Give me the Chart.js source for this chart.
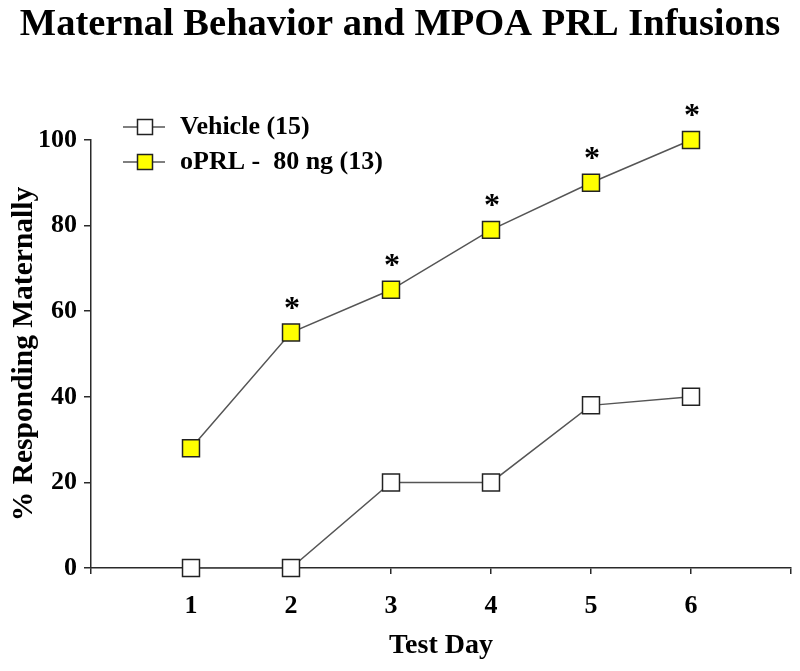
<!DOCTYPE html>
<html><head><meta charset="utf-8">
<script src="https://cdn.jsdelivr.net/npm/chart.js@4/dist/chart.umd.min.js"></script>
<style>html,body{margin:0;padding:0;background:#fff}</style>
</head><body>
<canvas id="c" width="800" height="671" style="display:block;width:800px;height:671px"></canvas>
<script>
// ---- data ----
const titleText = 'Maternal Behavior and MPOA PRL Infusions';
const xAxisTitle = 'Test Day';
const yAxisTitle = '% Responding Maternally';
const testDays = [1, 2, 3, 4, 5, 6];
const xTickLabels = ['1', '2', '3', '4', '5', '6'];
const yTickValues = [0, 20, 40, 60, 80, 100];
const vehicleLabel = 'Vehicle (15)';
const vehicleValues = [0, 0, 20, 20, 38, 40];
const oprlLabel = 'oPRL -  80 ng (13)';
const oprlValues = [28, 55, 65, 79, 90, 100];
const oprlSignificance = ['', '*', '*', '*', '*', '*'];

const SERIF = '"Liberation Serif", "Times New Roman", Times, serif';
const INK = '#000';
const AXIS = '#2a2a2a';

const legendPlugin = {
  id: 'lineLegend',
  afterDraw(chart) {
    const ctx = chart.ctx;
    const rows = [127, 162];
    ctx.save();
    chart.data.datasets.forEach((ds, i) => {
      const y = rows[i];
      ctx.strokeStyle = ds.borderColor;
      ctx.lineWidth = 1.5;
      ctx.beginPath(); ctx.moveTo(123, y); ctx.lineTo(165, y); ctx.stroke();
      ctx.fillStyle = ds.pointBackgroundColor;
      ctx.strokeStyle = ds.pointBorderColor;
      ctx.lineWidth = 1.5;
      ctx.beginPath(); ctx.rect(137.5, y - 7.5, 15, 15); ctx.fill(); ctx.stroke();
      ctx.fillStyle = INK;
      ctx.font = 'bold 26px ' + SERIF;
      ctx.textAlign = 'left';
      ctx.textBaseline = 'middle';
      ctx.fillText(ds.label, 180, y);
    });
    ctx.restore();
  }
};

const starPlugin = {
  id: 'stars',
  afterDatasetsDraw(chart) {
    const ctx = chart.ctx;
    const meta = chart.getDatasetMeta(1);
    ctx.save();
    ctx.fillStyle = INK;
    ctx.font = 'bold 32px ' + SERIF;
    ctx.textAlign = 'center';
    ctx.textBaseline = 'alphabetic';
    oprlSignificance.forEach((s, i) => {
      if (!s) return;
      const p = meta.data[i];
      ctx.fillText(s, p.x + 1, p.y - 15);
    });
    ctx.restore();
  }
};

const tickFont = { family: SERIF, size: 26, weight: 'bold' };

new Chart(document.getElementById('c'), {
  type: 'line',
  data: {
    datasets: [
      {
        label: vehicleLabel,
        data: testDays.map((d, i) => ({ x: d, y: vehicleValues[i] })),
        borderColor: '#555', borderWidth: 1.5, tension: 0,
        pointStyle: 'rect', pointRadius: 12, pointHoverRadius: 12,
        pointBackgroundColor: '#ffffff', pointBorderColor: '#222', pointBorderWidth: 1.5,
        clip: false
      },
      {
        label: oprlLabel,
        data: testDays.map((d, i) => ({ x: d, y: oprlValues[i] })),
        borderColor: '#555', borderWidth: 1.5, tension: 0,
        pointStyle: 'rect', pointRadius: 12, pointHoverRadius: 12,
        pointBackgroundColor: '#ffff00', pointBorderColor: '#222', pointBorderWidth: 1.5,
        clip: false
      }
    ]
  },
  options: {
    responsive: false, animation: false, devicePixelRatio: 1,
    layout: { autoPadding: false, padding: { left: 0, right: 0, top: 0, bottom: 0 } },
    plugins: {
      legend: { display: false },
      tooltip: { enabled: false },
      title: {
        display: true, text: titleText, color: INK,
        font: { family: SERIF, size: 38.5, weight: 'bold', lineHeight: 1.2 },
        padding: { top: 2, bottom: 91.8 }
      }
    },
    scales: {
      x: {
        type: 'linear', min: 0, max: testDays.length + 1,
        afterBuildTicks: s => { s.ticks = [0].concat(testDays, [testDays.length + 1]).map(v => ({ value: v })); },
        ticks: {
          color: INK, font: tickFont, padding: 17, maxRotation: 0, autoSkip: false,
          callback: v => { const i = testDays.indexOf(v); return i >= 0 ? xTickLabels[i] : ''; }
        },
        grid: { drawOnChartArea: false, drawTicks: true, tickLength: 6, color: AXIS, lineWidth: 1.5 },
        border: { color: AXIS, width: 1.5 },
        title: {
          display: true, text: xAxisTitle, color: INK,
          font: { family: SERIF, size: 28, weight: 'bold', lineHeight: 1.2 },
          padding: { top: 0, bottom: 8.7 }
        },
        afterFit: s => { s.height = 103; s.paddingLeft = 0; s.paddingRight = 9; }
      },
      y: {
        min: 0, max: 100,
        afterBuildTicks: s => { s.ticks = yTickValues.map(v => ({ value: v })); },
        ticks: { color: INK, font: tickFont, padding: 7 },
        grid: { drawOnChartArea: false, drawTicks: true, tickLength: 7, color: AXIS, lineWidth: 1.5 },
        border: { color: AXIS, width: 1.5 },
        title: {
          display: true, text: yAxisTitle, color: INK,
          font: { family: SERIF, size: 29.5, weight: 'bold', lineHeight: 1.2 },
          padding: { top: 6.5, bottom: 0 }
        },
        afterFit: s => { s.width = 91; }
      }
    }
  },
  plugins: [starPlugin, legendPlugin]
});
</script>
</body></html>
